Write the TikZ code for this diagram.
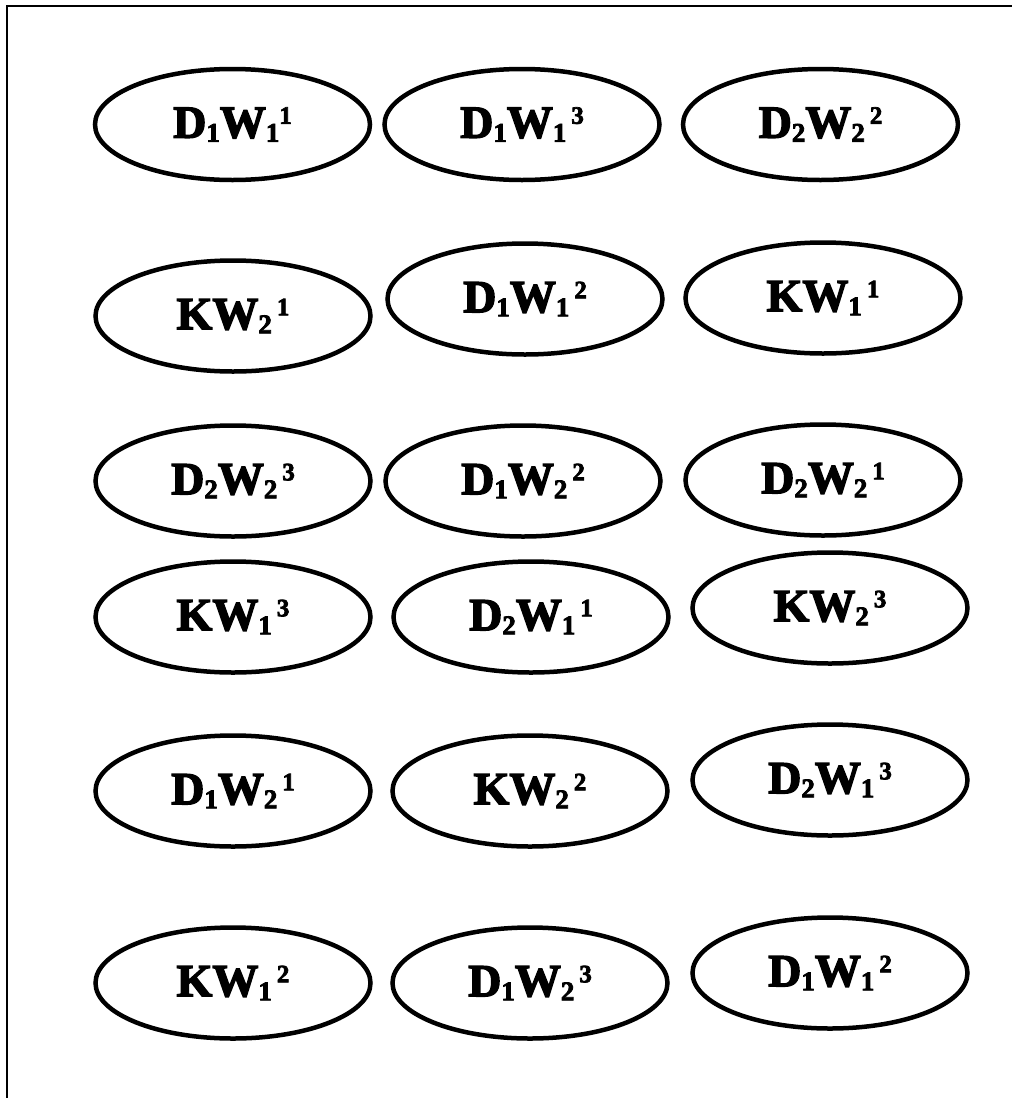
\documentclass[tikz,border=0pt]{standalone}
\usepackage{fontspec}
\setmainfont{Liberation Serif}[BoldFeatures={FakeBold=3}]
\usetikzlibrary{shapes.geometric}
\newcommand\sbs[1]{\raisebox{-4pt}{\fontsize{27}{27}\selectfont #1}}
\newcommand\sps[1]{\raisebox{14pt}{\fontsize{25}{25}\selectfont #1}}
\newcommand\gsps[1]{\hspace{5pt}\sps{#1}}
\tikzset{
  oval/.style={ellipse, draw=black, line width=4.5pt, minimum width=275pt, minimum height=111pt, inner sep=0pt,
    font=\bfseries\fontsize{46}{48}\selectfont},
  frameline/.style={line width=2.8pt, line cap=rect}
}
\begin{document}
\begin{tikzpicture}[x=1pt,y=-1pt]
\useasboundingbox (0,0) rectangle (1012,1098);
\coordinate (fa) at (1020,6);
\coordinate (fb) at (7,6);
\coordinate (fc) at (7,1110);
\draw[frameline] (fa) -- (fb) -- (fc);
% row 1
\node[oval] (r1a) at (232.5,124.5) {D\sbs{1}W\sbs{1}\sps{1}};
\node[oval] (r1b) at (522,124.5) {D\sbs{1}W\sbs{1}\gsps{3}};
\node[oval] (r1c) at (820.5,124.5) {D\sbs{2}W\sbs{2}\gsps{2}};
% row 2
\node[oval] (r2a) at (233,316) {KW\sbs{2}\gsps{1}};
\node[oval] (r2b) at (525,299) {D\sbs{1}W\sbs{1}\gsps{2}};
\node[oval] (r2c) at (823,298) {KW\sbs{1}\gsps{1}};
% row 3
\node[oval] (r3a) at (233,481) {D\sbs{2}W\sbs{2}\gsps{3}};
\node[oval] (r3b) at (523,481) {D\sbs{1}W\sbs{2}\gsps{2}};
\node[oval] (r3c) at (823,480) {D\sbs{2}W\sbs{2}\gsps{1}};
% row 4
\node[oval] (r4a) at (233,617) {KW\sbs{1}\gsps{3}};
\node[oval] (r4b) at (531,617) {D\sbs{2}W\sbs{1}\gsps{1}};
\node[oval] (r4c) at (830,608) {KW\sbs{2}\gsps{3}};
% row 5
\node[oval] (r5a) at (233,791) {D\sbs{1}W\sbs{2}\gsps{1}};
\node[oval] (r5b) at (530,791) {KW\sbs{2}\gsps{2}};
\node[oval] (r5c) at (830,780) {D\sbs{2}W\sbs{1}\gsps{3}};
% row 6
\node[oval] (r6a) at (233,983) {KW\sbs{1}\gsps{2}};
\node[oval] (r6b) at (530,983) {D\sbs{1}W\sbs{2}\gsps{3}};
\node[oval] (r6c) at (830,973) {D\sbs{1}W\sbs{1}\gsps{2}};
\end{tikzpicture}
\end{document}
